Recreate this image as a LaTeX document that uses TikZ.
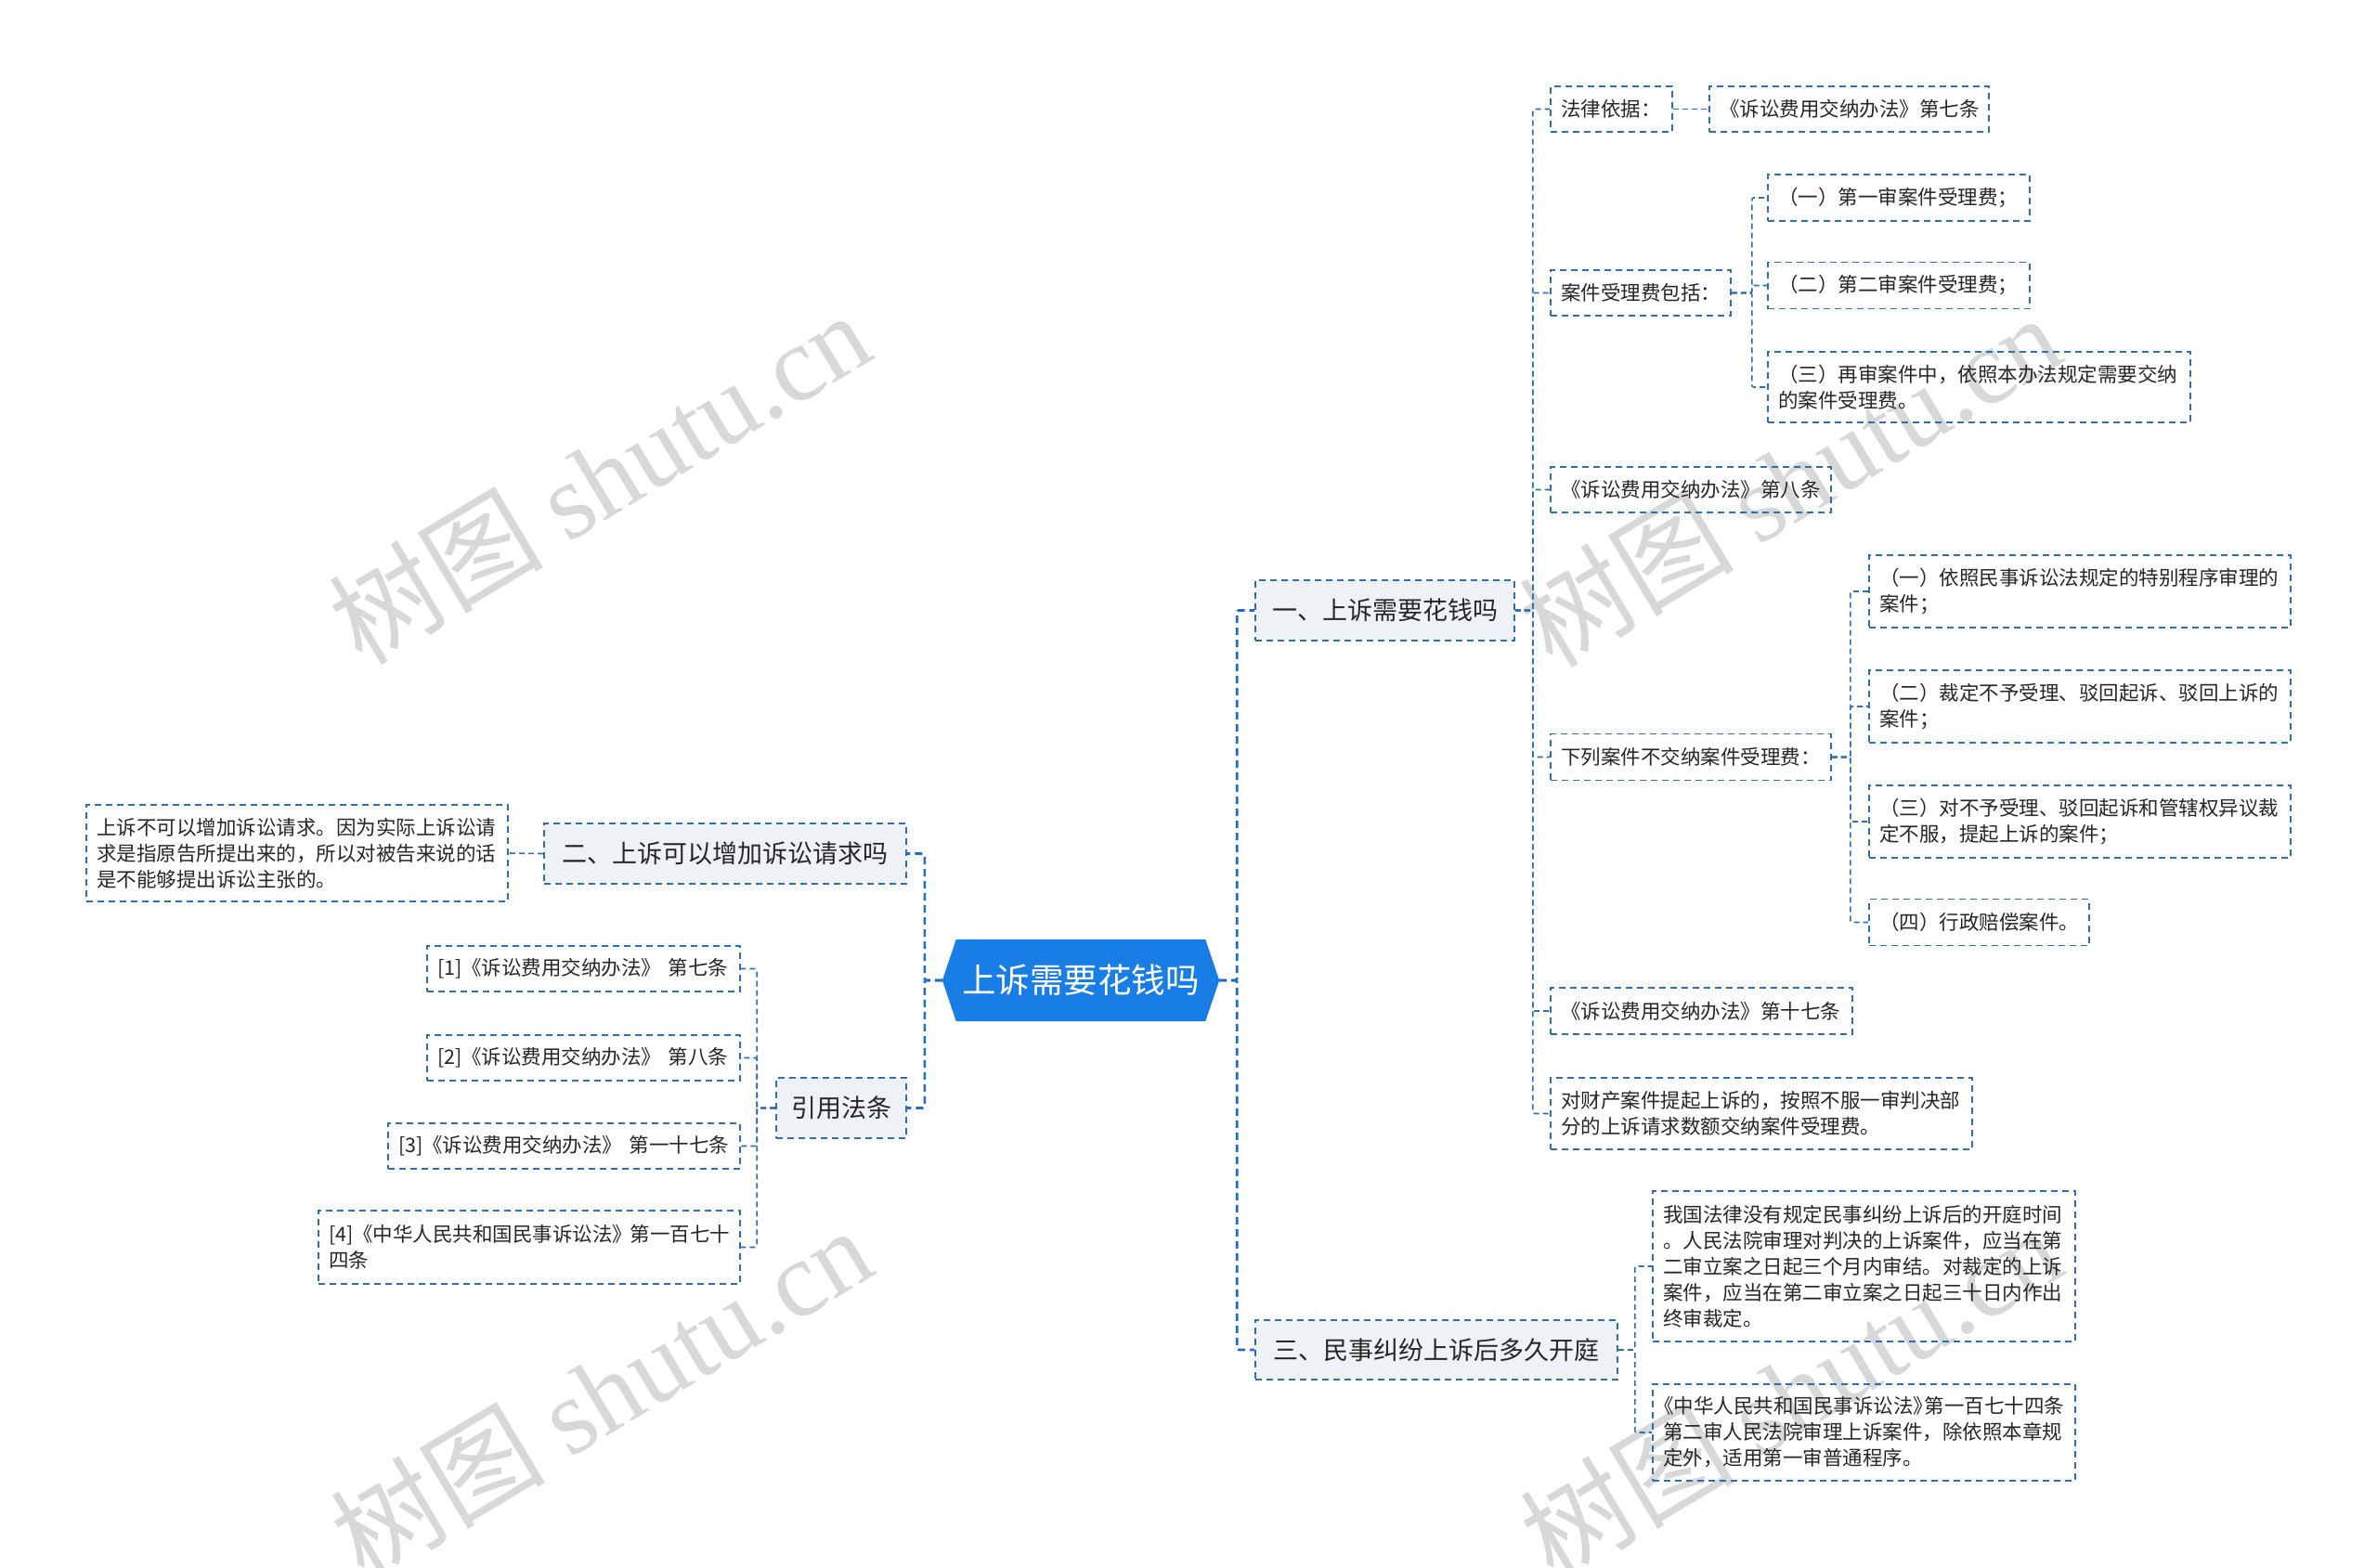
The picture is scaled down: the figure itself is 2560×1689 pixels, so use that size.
\documentclass[tikz,border=0pt]{standalone}
\usepackage{fontspec}
\setmainfont{Noto Sans CJK SC}
\newfontfamily\wmlatin{Liberation Serif}
\usetikzlibrary{backgrounds}
\XeTeXlinebreaklocale "zh"
\XeTeXlinebreakskip = 0pt plus 1pt
\definecolor{rootblue}{RGB}{24,125,228}
\definecolor{trunkblue}{RGB}{28,110,200}
\definecolor{boxblue}{RGB}{46,112,175}
\definecolor{lvlfill}{RGB}{238,241,245}
\definecolor{txt}{RGB}{38,38,38}
\definecolor{wmgray}{RGB}{216,216,216}
\newcommand\halfbl{\makebox[0.55em][r]{《}}
\newcommand\halfbr{\makebox[0.55em][l]{》}}
\begin{document}
\begin{tikzpicture}[x=1pt,y=-1pt,
  leaf/.style={draw=boxblue, line width=1.6pt, dash pattern=on 7pt off 5pt, text=txt,
    font=\fontsize{21.5}{28}\selectfont, inner xsep=11pt, inner ysep=0pt, align=left},
  lvl/.style={draw=boxblue, fill=lvlfill, line width=1.6pt, dash pattern=on 7pt off 5pt,
    text=txt, font=\fontsize{27}{34}\selectfont, inner sep=0pt, align=center},
  link/.style={draw=boxblue, line width=1.6pt, dash pattern=on 6pt off 4pt, rounded corners=2pt},
  trunk/.style={draw=trunkblue, line width=2.6pt, dash pattern=on 8pt off 5pt, rounded corners=2pt},
  rootnode/.style={text=white, font=\fontsize{36.5}{44}\selectfont, inner sep=0pt},
  wmk/.style={text=wmgray, rotate=31, font=\fontsize{116}{124}\selectfont, inner sep=0pt}]
\useasboundingbox (0,0) rectangle (2560,1689);
\begin{scope}[on background layer]
\fill[white] (0,0) rectangle (2560,1689);
\end{scope}
% watermarks
\node[wmk] (w1) at (645,514) {树图 {\wmlatin shutu.cn}};
\node[wmk] (w2) at (1927,517) {树图 {\wmlatin shutu.cn}};
\node[wmk] (w3) at (647,1500) {树图 {\wmlatin shutu.cn}};
\node[wmk] (w4) at (1928,1500) {树图 {\wmlatin shutu.cn}};
% root
\node[rootnode, minimum width=298pt, minimum height=88pt] (root) at (1164,1056) {上诉需要花钱吗};
\begin{scope}[on background layer]
\fill[rootblue] (root.west) -- ([xshift=15pt]root.north west) -- ([xshift=-15pt]root.north east)
  -- (root.east) -- ([xshift=-15pt]root.south east) -- ([xshift=15pt]root.south west) -- cycle;
\end{scope}
% level 1
\node[lvl, minimum width=279pt, minimum height=65pt] (n1) at (1491.5,657.5) {一、上诉需要花钱吗};
\node[lvl, minimum width=390pt, minimum height=64pt] (n3) at (1547,1454) {三、民事纠纷上诉后多久开庭};
\node[lvl, minimum width=390pt, minimum height=65pt] (n2) at (781,919.5) {二、上诉可以增加诉讼请求吗};
\node[lvl, minimum width=140pt, minimum height=65pt] (n4) at (906,1193.5) {引用法条};
% children of n1
\node[leaf, text width=109pt, minimum height=49pt] (a1) at (1735.5,117.5) {\mbox{法律依据：}};
\node[leaf, text width=279pt, minimum height=49pt] (a1c) at (1991.5,117.5) {\mbox{《诉讼费用交纳办法》第七条}};
\node[leaf, text width=172pt, minimum height=49pt] (a2) at (1767,315.5) {\mbox{案件受理费包括：}};
\node[leaf, text width=260pt, minimum height=50pt] (b1) at (2045,213) {\mbox{（一）第一审案件受理费；}};
\node[leaf, text width=260pt, minimum height=50pt] (b2) at (2045,307.5) {\mbox{（二）第二审案件受理费；}};
\node[leaf, text width=433pt, minimum height=76pt] (b3) at (2131.5,417) {\mbox{（三）再审案件中，依照本办法规定需要交纳}\\的案件受理费。};
\node[leaf, text width=280pt, minimum height=49pt] (a3) at (1821,527.5) {\mbox{《诉讼费用交纳办法》第八条}};
\node[leaf, text width=280pt, minimum height=50pt] (a4) at (1821,815.5) {\mbox{下列案件不交纳案件受理费：}};
\node[leaf, text width=432pt, minimum height=78pt] (c1) at (2240,637) {\mbox{（一）依照民事诉讼法规定的特别程序审理的}\\案件；};
\node[leaf, text width=432pt, minimum height=78pt] (c2) at (2240,761) {\mbox{（二）裁定不予受理、驳回起诉、驳回上诉的}\\案件；};
\node[leaf, text width=432pt, minimum height=78pt] (c3) at (2240,885) {\mbox{（三）对不予受理、驳回起诉和管辖权异议裁}\\定不服，提起上诉的案件；};
\node[leaf, text width=215pt, minimum height=50pt] (c4) at (2131.5,993.5) {\mbox{（四）行政赔偿案件。}};
\node[leaf, text width=303pt, minimum height=50pt] (a5) at (1832.5,1089) {\mbox{《诉讼费用交纳办法》第十七条}};
\node[leaf, text width=432pt, minimum height=77pt] (a6) at (1897,1199.5) {\mbox{对财产案件提起上诉的，按照不服一审判决部}\\分的上诉请求数额交纳案件受理费。};
% children of n3
\node[leaf, text width=433pt, minimum height=162pt] (d1) at (2007.5,1364) {\mbox{我国法律没有规定民事纠纷上诉后的开庭时间}\\\mbox{。人民法院审理对判决的上诉案件，应当在第}\\\mbox{二审立案之日起三个月内审结。对裁定的上诉}\\\mbox{案件，应当在第二审立案之日起三十日内作出}\\终审裁定。};
\node[leaf, text width=433pt, minimum height=104pt] (d2) at (2007.5,1543) {\mbox{\halfbl 中华人民共和国民事诉讼法\halfbr 第一百七十四条}\\\mbox{第二审人民法院审理上诉案件，除依照本章规}\\定外，适用第一审普通程序。};
% children of n2
\node[leaf, text width=432pt, minimum height=104pt] (e1) at (320,919) {\mbox{上诉不可以增加诉讼请求。因为实际上诉讼请}\\\mbox{求是指原告所提出来的，所以对被告来说的话}\\是不能够提出诉讼主张的。};
% children of n4
\node[leaf, text width=315pt, minimum height=49pt] (f1) at (628.5,1043.5) {\mbox{[1]《诉讼费用交纳办法》 第七条}};
\node[leaf, text width=315pt, minimum height=49pt] (f2) at (628.5,1139.5) {\mbox{[2]《诉讼费用交纳办法》 第八条}};
\node[leaf, text width=357pt, minimum height=49pt] (f3) at (607.5,1234.5) {\mbox{[3]《诉讼费用交纳办法》 第一十七条}};
\node[leaf, text width=432pt, minimum height=79pt] (f4) at (570,1343.5) {\mbox{[4]《中华人民共和国民事诉讼法\halfbr\ 第一百七十}\\四条};
% connectors from root
\draw[trunk] (root.east) -- ++(19,0) |- (n1.west);
\draw[trunk] (root.east) -- ++(19,0) |- (n3.west);
\draw[trunk] (root.west) -- ++(-19,0) |- (n2.east);
\draw[trunk] (root.west) -- ++(-19,0) |- (n4.east);
% n1 branches
\foreach \c in {a1,a2,a3,a4,a5,a6} \draw[link] (n1.east) -- ++(19,0) |- (\c.west);
\draw[link] (a1.east) -- (a1c.west);
\foreach \c in {b1,b2,b3} \draw[link] (a2.east) -- ++(22,0) |- (\c.west);
\foreach \c in {c1,c2,c3,c4} \draw[link] (a4.east) -- ++(20,0) |- (\c.west);
% n3 branches
\foreach \c in {d1,d2} \draw[link] (n3.east) -- ++(18,0) |- (\c.west);
% n2 branch
\draw[link] (n2.west) -- (e1.east);
% n4 branches
\foreach \c in {f1,f2,f3,f4} \draw[link] (n4.west) -- ++(-20,0) |- (\c.east);
\end{tikzpicture}
\end{document}
